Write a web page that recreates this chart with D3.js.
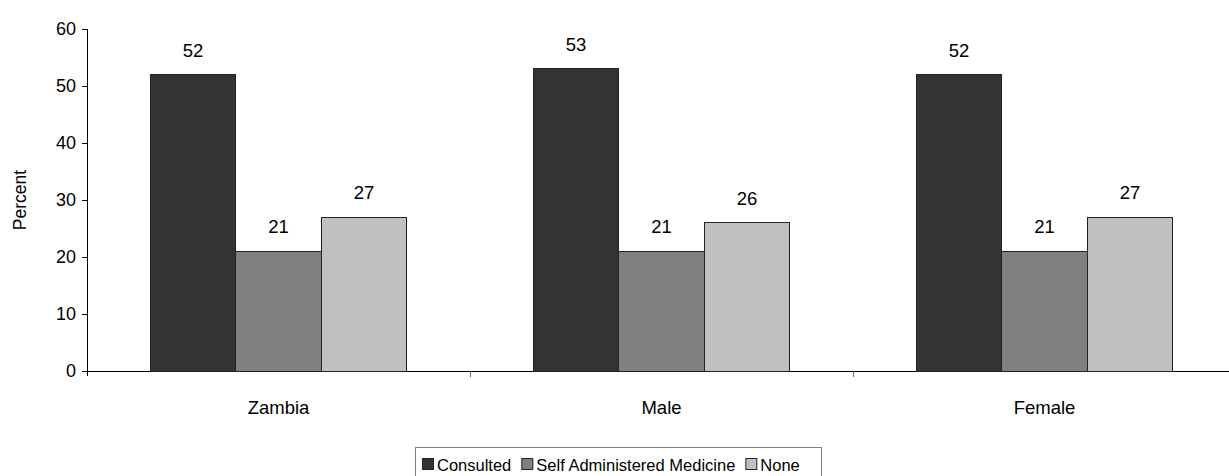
<!DOCTYPE html>
<html>
<head>
<meta charset="utf-8">
<script src="https://cdn.jsdelivr.net/npm/d3@7"></script>
<style>
  body { margin: 0; background: #fff; }
  svg text { font-family: "Liberation Sans", Arial, sans-serif; fill: #000; }
  .axis path, .axis line { stroke: #000; shape-rendering: crispEdges; }
  .bar { stroke: #222; stroke-width: 1px; shape-rendering: crispEdges; }
</style>
</head>
<body>
<svg id="chart" width="1229" height="476"></svg>
<script>
// chart data
var categories = ["Zambia", "Male", "Female"];
var seriesNames = ["Consulted", "Self Administered Medicine", "None"];
var consulted = [52, 53, 52];
var selfMedicine = [21, 21, 21];
var noneVals = [27, 26, 27];
var yTicks = [0, 10, 20, 30, 40, 50, 60];
var colors = ["#333333", "#808080", "#c0c0c0"];

var seriesValues = [consulted, selfMedicine, noneVals];

var svg = d3.select("#chart");
var plotL = 87, plotR = 1236, plotT = 29, plotB = 371;

var x0 = d3.scaleBand()
    .domain(categories)
    .range([plotL, plotR])
    .paddingInner(0)
    .paddingOuter(0);

// bars take about 2/3 of each category slot
var groupW = x0.bandwidth() * 0.67;
var x1 = d3.scaleBand()
    .domain(seriesNames)
    .range([0, groupW]);

var y = d3.scaleLinear().domain([0, 60]).range([plotB, plotT]);

// y axis
var yAxis = svg.append("g")
    .attr("class", "axis")
    .attr("transform", "translate(" + plotL + ",0)")
    .call(d3.axisLeft(y).tickValues(yTicks).tickSize(5).tickSizeOuter(0));
yAxis.select(".domain").attr("d", "M0.5," + (plotB + 5) + "V" + plotT);
yAxis.selectAll("text").style("font-size", "18px").attr("x", -11);

// x axis, ticks between categories
var xAxis = svg.append("g")
    .attr("class", "axis")
    .attr("transform", "translate(0," + plotB + ")");
xAxis.append("line")
    .attr("x1", plotL).attr("x2", plotR)
    .attr("y1", 0.5).attr("y2", 0.5);
xAxis.selectAll(".tk")
    .data(categories.slice(1))
    .enter().append("line")
    .attr("class", "tk")
    .attr("x1", function(d) { return x0(d); })
    .attr("x2", function(d) { return x0(d); })
    .attr("y1", 0).attr("y2", 6)
    .style("stroke", "#666");
xAxis.selectAll(".lbl")
    .data(categories)
    .enter().append("text")
    .attr("class", "lbl")
    .attr("x", function(d) { return x0(d) + x0.bandwidth() / 2; })
    .attr("y", 43)
    .attr("text-anchor", "middle")
    .style("font-size", "18.5px")
    .text(function(d) { return d; });

// bars
var rows = [];
categories.forEach(function(c, i) {
  seriesNames.forEach(function(s, j) {
    rows.push({ cat: c, series: s, value: seriesValues[j][i], color: colors[j] });
  });
});

var gx = function(d) {
  return x0(d.cat) + (x0.bandwidth() - groupW) / 2 + x1(d.series);
};

svg.selectAll(".bar")
    .data(rows)
    .enter().append("rect")
    .attr("class", "bar")
    .attr("x", gx)
    .attr("y", function(d) { return y(d.value); })
    .attr("width", x1.bandwidth())
    .attr("height", function(d) { return plotB - y(d.value); })
    .attr("fill", function(d) { return d.color; });

svg.selectAll(".val")
    .data(rows)
    .enter().append("text")
    .attr("class", "val")
    .attr("x", function(d) { return gx(d) + x1.bandwidth() / 2; })
    .attr("y", function(d) { return y(d.value) - 18; })
    .attr("text-anchor", "middle")
    .style("font-size", "18.5px")
    .text(function(d) { return d.value; });

// y label
svg.append("text")
    .attr("transform", "translate(26,200) rotate(-90)")
    .attr("text-anchor", "middle")
    .style("font-size", "17.5px")
    .text("Percent");

// legend
var legend = svg.append("g").attr("transform", "translate(415,447)");
legend.append("rect")
    .attr("x", 0.5).attr("y", 0.5)
    .attr("width", 406).attr("height", 40)
    .attr("fill", "#fff")
    .attr("stroke", "#808080");
var offs = 7;
seriesNames.forEach(function(s, j) {
  var g = legend.append("g").attr("class", "leg");
  g.append("rect")
    .attr("x", offs + 0.5).attr("y", 11.5)
    .attr("width", 11).attr("height", 11)
    .attr("fill", colors[j])
    .attr("stroke", "#222");
  var t = g.append("text")
    .attr("x", offs + 15).attr("y", 23.5)
    .style("font-size", "16.5px")
    .text(s);
  offs += 15 + t.node().getComputedTextLength() + 10;
});
</script>
</body>
</html>
